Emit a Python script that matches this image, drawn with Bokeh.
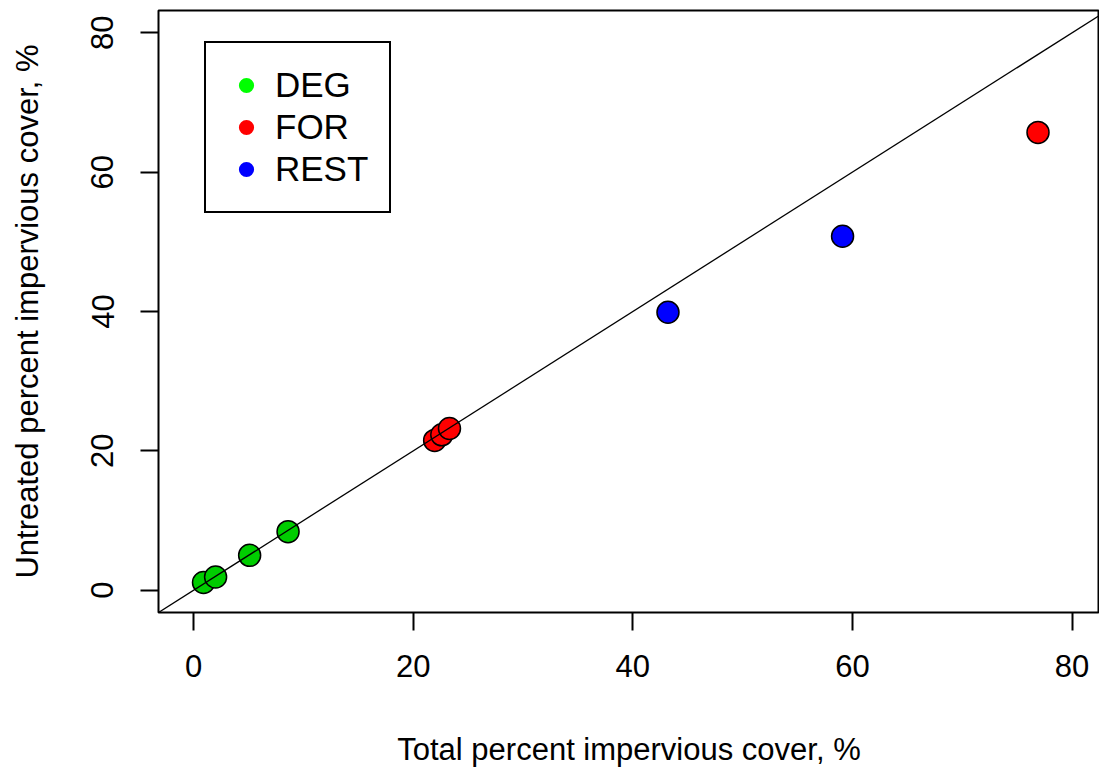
from bokeh.plotting import figure
from bokeh.models import FixedTicker, Legend, LegendItem, Slope
from bokeh.embed import file_html
from bokeh.resources import INLINE

# ---- data ----
deg_x = [0.9, 2.0, 5.1, 8.6]
deg_y = [1.1, 1.9, 5.0, 8.4]
for_x = [21.95, 22.6, 23.3, 76.9]
for_y = [21.5, 22.3, 23.2, 65.7]
rest_x = [43.2, 59.1]
rest_y = [39.9, 50.8]
groups = ["DEG", "FOR", "REST"]
point_colors = ["#00CD00", "#FF0000", "#0000FF"]
legend_colors = ["#00FF00", "#FF0000", "#0000FF"]
ticks = [0, 20, 40, 60, 80]
x_title = "Total percent impervious cover, %"
y_title = "Untreated percent impervious cover, %"

FONT = "Liberation Sans"
FS = "31px"

p = figure(width=1099, height=772, x_range=(-3.2, 82.5), y_range=(-3.2, 83.2),
           output_backend="svg", toolbar_location=None,
           min_border_left=158, min_border_top=10, min_border_bottom=160, min_border_right=0)

p.grid.visible = False
p.background_fill_color = "white"
p.border_fill_color = "white"
p.outline_line_color = "black"
p.outline_line_alpha = 1
p.outline_line_width = 2

for ax in (p.xaxis[0], p.yaxis[0]):
    ax.ticker = FixedTicker(ticks=ticks)
    ax.axis_line_color = None
    ax.major_tick_out = 18
    ax.major_tick_in = 0
    ax.minor_tick_line_color = None
    ax.major_tick_line_color = "black"
    ax.major_tick_line_width = 2
    ax.major_label_text_font = FONT
    ax.major_label_text_font_size = FS
    ax.major_label_text_color = "black"
    ax.axis_label_text_font = FONT
    ax.axis_label_text_font_size = FS
    ax.axis_label_text_font_style = "normal"
    ax.axis_label_text_color = "black"

p.xaxis.axis_label = x_title
p.yaxis.axis_label = y_title
p.xaxis.major_label_standoff = 24
p.xaxis.axis_label_standoff = 52
p.yaxis.major_label_standoff = 27
p.yaxis.axis_label_standoff = 44
p.yaxis.major_label_orientation = "vertical"

data = [(deg_x, deg_y), (for_x, for_y), (rest_x, rest_y)]
items = []
for (xs, ys), g, pc, lc in zip(data, groups, point_colors, legend_colors):
    p.scatter(xs, ys, size=22, fill_color=pc, line_color="black", line_width=1.5)
    leg_r = p.scatter(x=[float("nan")], y=[float("nan")], size=15, fill_color=lc, line_color=None)
    items.append(LegendItem(label=g, renderers=[leg_r]))

p.add_layout(Slope(gradient=1, y_intercept=0, line_color="black", line_width=1.3))

legend = Legend(items=items, location=(46, 399), padding=21, margin=0,
                glyph_width=38, glyph_height=38, label_height=42, label_width=92,
                label_standoff=10, spacing=0,
                border_line_color="black", border_line_alpha=1, border_line_width=2,
                background_fill_color="white", background_fill_alpha=1,
                label_text_font=FONT, label_text_font_size="35px",
                label_text_color="black")
p.add_layout(legend, "center")

open("out.html", "w").write(file_html(p, INLINE))
